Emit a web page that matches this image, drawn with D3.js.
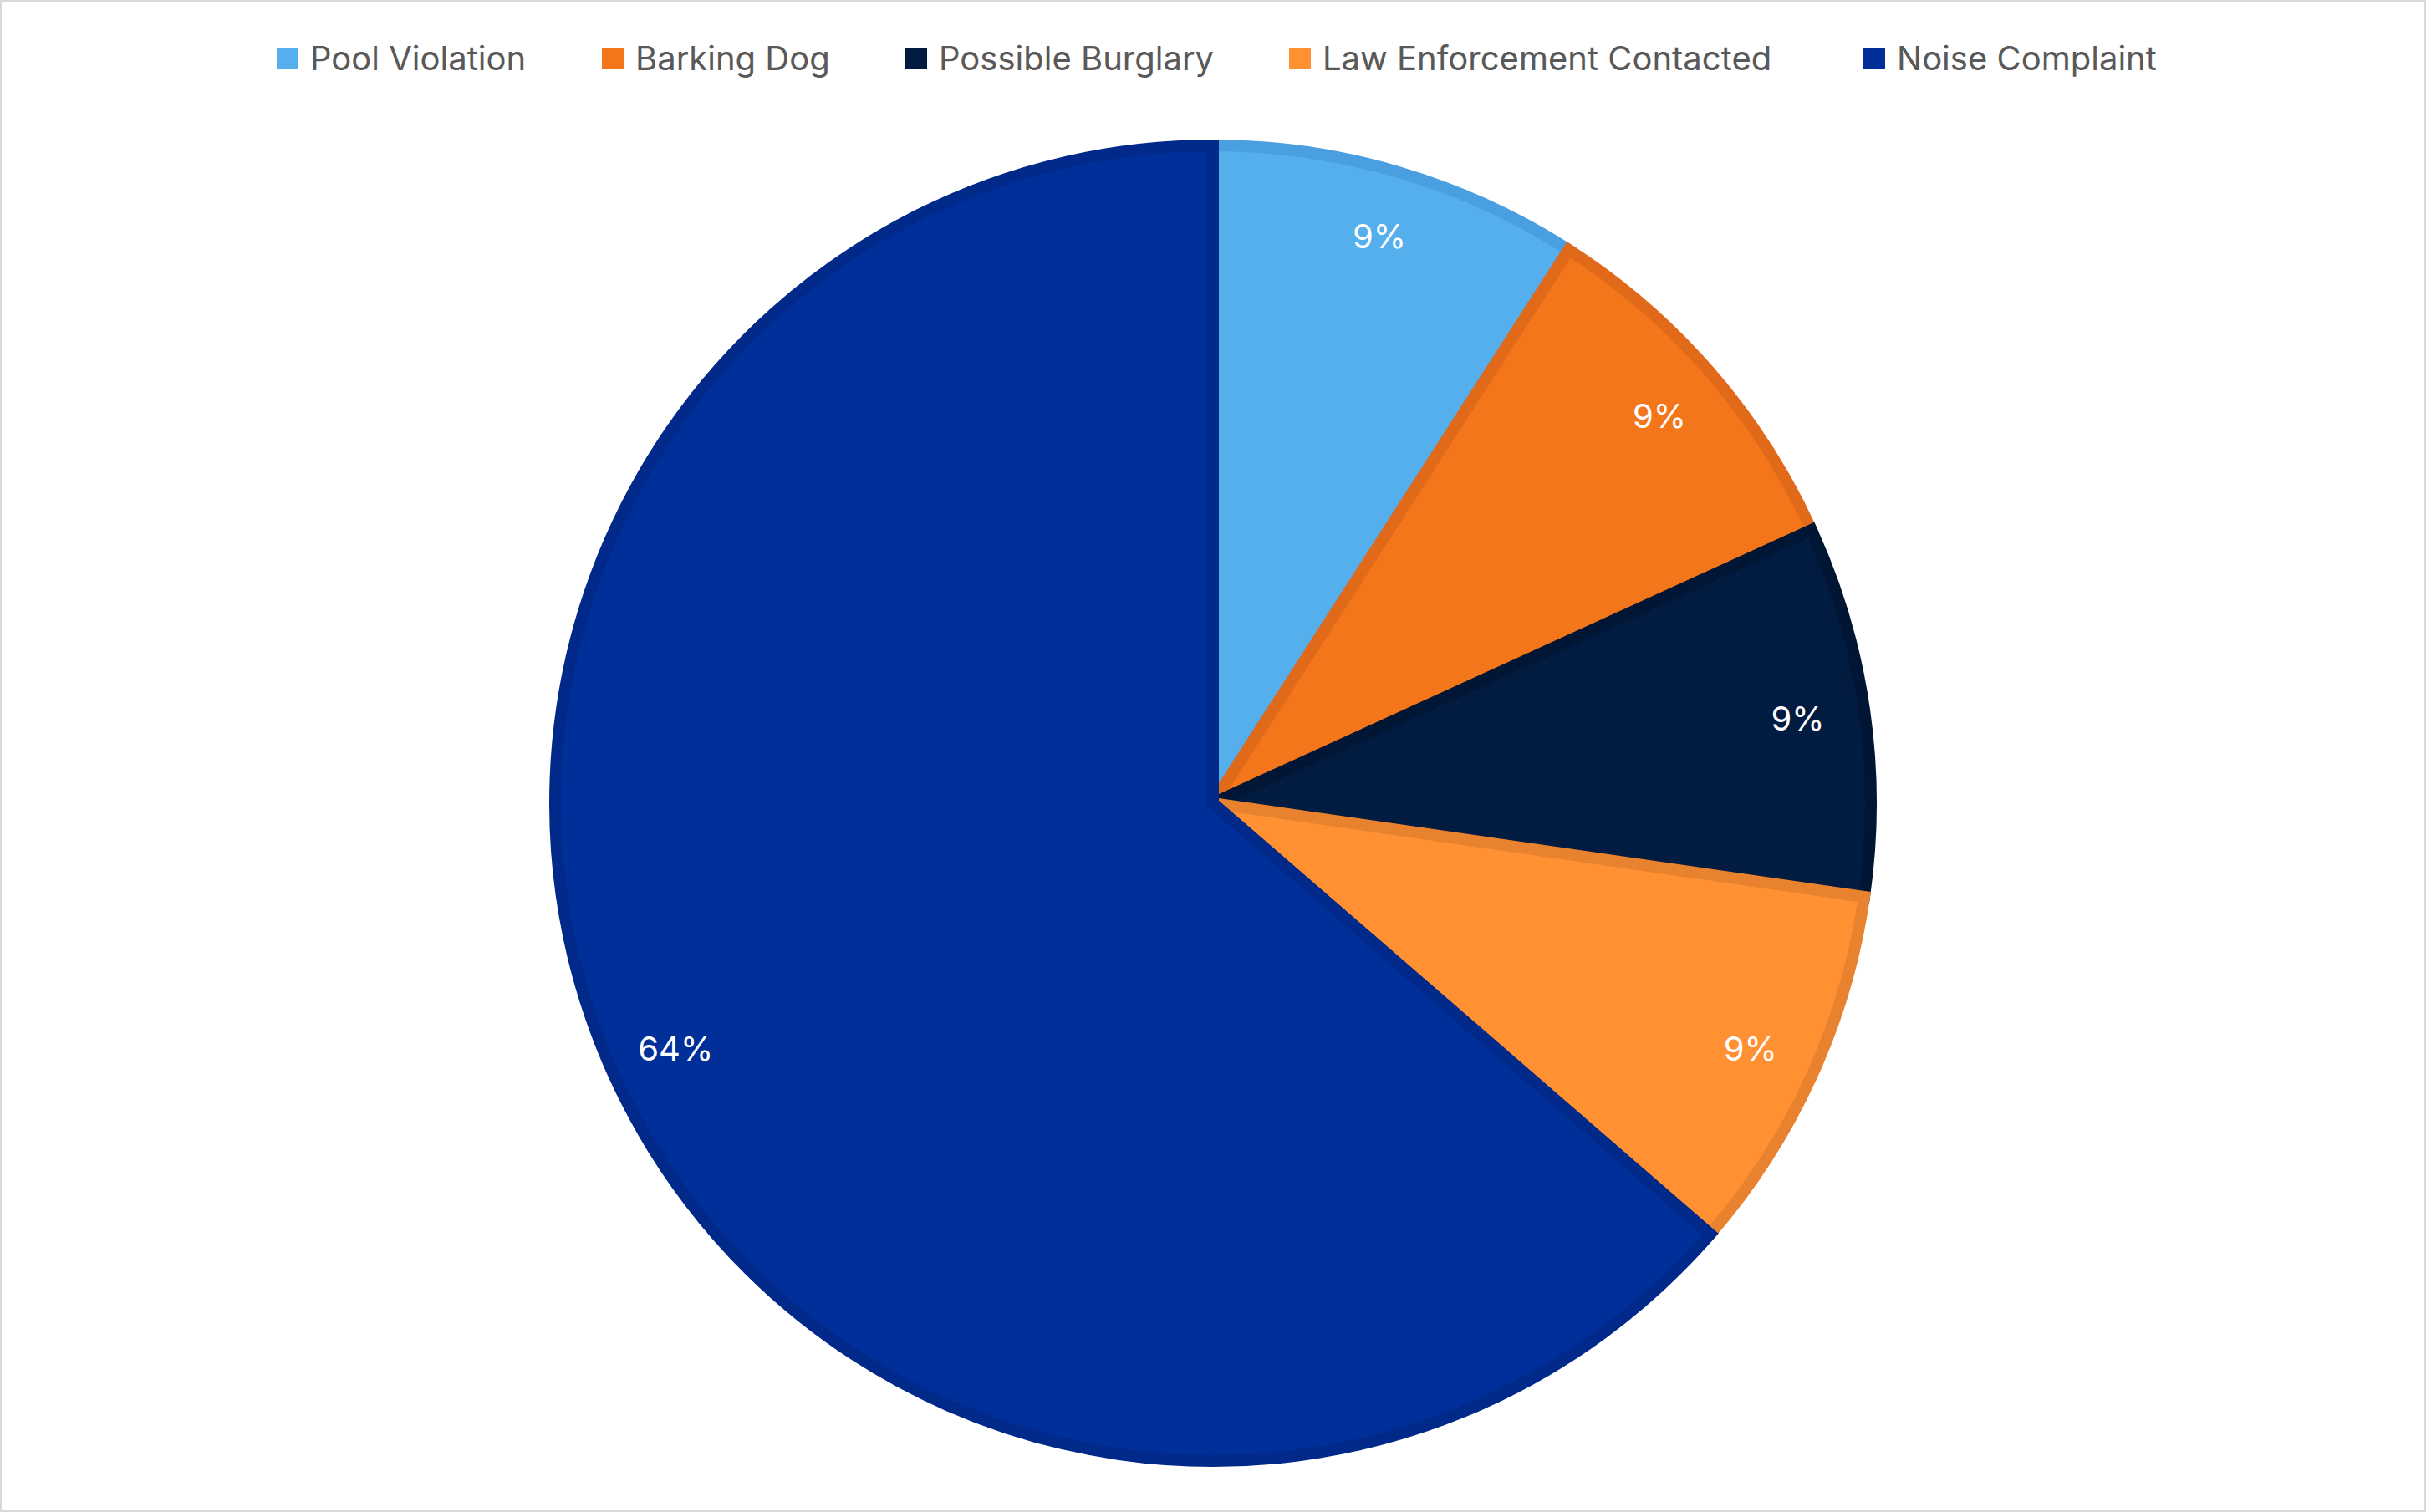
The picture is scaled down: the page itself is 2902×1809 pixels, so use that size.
<!DOCTYPE html>
<html><head><meta charset="utf-8">
<script src="https://cdn.jsdelivr.net/npm/d3@7"></script>
<style>body{margin:0;background:#fff;} svg{display:block;}</style>
</head><body><div id="chart"></div>
<script>
const categories = ["Pool Violation", "Barking Dog", "Possible Burglary", "Law Enforcement Contacted", "Noise Complaint"];
const values = [1, 1, 1, 1, 7];
const fills = ["#55AFED", "#F4761B", "#021B40", "#FF9133", "#002F9A"];
const strokes = ["#4A9FE0", "#E0691A", "#011634", "#E8822E", "#00298A"];

const W = 2902, H = 1809;
const cx = 1451, cy = 961, R = 794;

const svg = d3.select("#chart").append("svg").attr("width", W).attr("height", H);
svg.append("rect").attr("x", 1).attr("y", 1).attr("width", W - 2).attr("height", H - 2)
    .attr("fill", "#fff").attr("stroke", "#d9d9d9").attr("stroke-width", 2);

const pie = d3.pie().sort(null).value(d => d)(values);
const arc = d3.arc().innerRadius(0).outerRadius(R - 7);
const labelArc = d3.arc().innerRadius(R * 0.89).outerRadius(R * 0.89);
const total = d3.sum(values);

const g = svg.append("g").attr("transform", `translate(${cx},${cy})`);
g.selectAll("path").data(pie).enter().append("path")
    .attr("d", arc)
    .attr("fill", (d, i) => fills[i])
    .attr("stroke", (d, i) => strokes[i])
    .attr("stroke-width", 14)
    .attr("stroke-linejoin", "miter");

g.selectAll("text").data(pie).enter().append("text")
    .attr("transform", d => `translate(${labelArc.centroid(d)})`)
    .attr("text-anchor", "middle").attr("dy", "0.35em")
    .attr("font-family", "Inter, 'Noto Sans', sans-serif")
    .attr("font-size", 40).attr("fill", "#fff")
    .text(d => Math.round(d.value / total * 100) + "%");

// Legend
const legendX = [331, 720, 1083, 1542, 2229];
const lg = svg.append("g");
categories.forEach((c, i) => {
    lg.append("rect").attr("x", legendX[i]).attr("y", 57).attr("width", 26).attr("height", 26)
        .attr("fill", fills[i]);
    lg.append("text").attr("x", legendX[i] + 40).attr("y", 70).attr("dy", "0.35em")
        .attr("font-family", "Inter, 'Noto Sans', sans-serif")
        .attr("font-size", 40).attr("fill", "#595959").text(c);
});
</script></body></html>
